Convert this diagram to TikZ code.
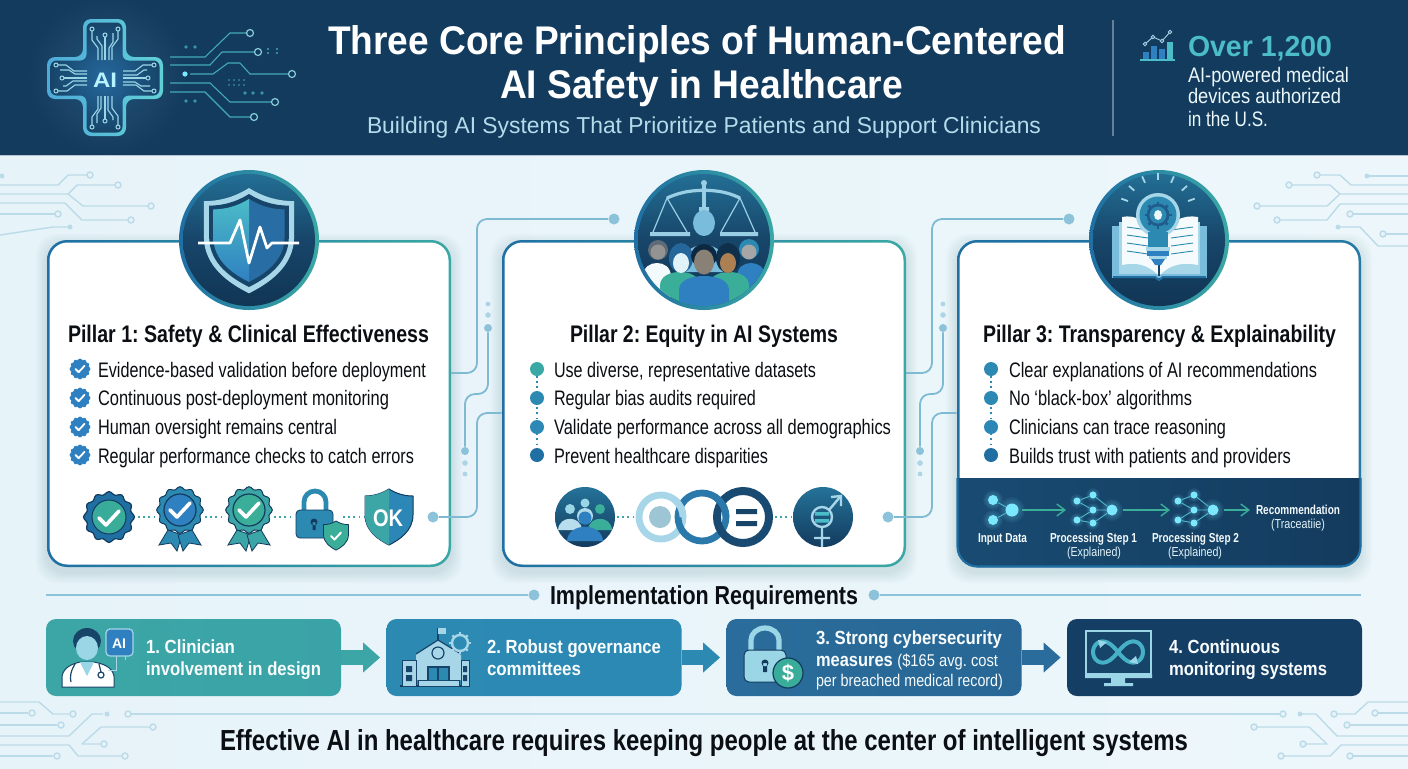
\documentclass[tikz,border=0pt]{standalone}
\usepackage{fontspec}
\usepackage{graphicx}
\setmainfont{Liberation Sans}
\AtBeginDocument{\frenchspacing}
\usetikzlibrary{arrows.meta}
\definecolor{navy}{HTML}{133B5E}
\definecolor{navyb}{HTML}{174569}
\definecolor{bgl}{HTML}{E6F3F9}
\definecolor{bgr}{HTML}{EDF7FB}
\definecolor{trace}{HTML}{BBDBE8}
\definecolor{conn}{HTML}{7FBAD3}
\definecolor{cdotc}{HTML}{8CC3DA}
\definecolor{bord}{HTML}{1F6FA3}
\definecolor{bordt}{HTML}{3AA8A4}
\definecolor{teal}{HTML}{3CA6A6}
\definecolor{mid}{HTML}{2C8AB2}
\definecolor{deep}{HTML}{2A6C9B}
\definecolor{dark}{HTML}{153E65}
\definecolor{ink}{HTML}{0B0F13}
\definecolor{green}{HTML}{3AAE98}
\definecolor{blu}{HTML}{2F80C0}
\definecolor{sky}{HTML}{A6D6E8}
\definecolor{cyn}{HTML}{7CE8FF}
\definecolor{ltc}{HTML}{9AD6E6}
\definecolor{overc}{HTML}{4BBCC8}
\newcommand\fz[1]{\fontsize{#1}{#1}\selectfont}
\newcommand\tw[2]{\resizebox{\dimexpr #1pt/2\relax}{\height}{#2}}
\newcommand\txt[6]{\node[txt,#5] (#1) at (#2,#3) {\tw{#4}{#6}};}
\newcommand\glow[5]{\foreach \gi in {1,...,10}{\fill[#4,opacity=#5] (#1,#2) circle ({#3*\gi/10});}}
\newcommand\softglow[5]{\foreach \gi in {1,...,24}{\fill[#4,opacity=#5] (#1,#2) circle ({#3*\gi/24});}}
\newcommand\ring[3]{\draw[trace,line width=.7pt,fill=bgl] (#1,#2) circle (#3);}
\newcommand\bdy[4]{\fill[#4] (#1-#3,320) -- (#1-#3,#2+14) .. controls (#1-#3,#2+4) and (#1-#3*.5,#2) .. (#1,#2) .. controls (#1+#3*.5,#2) and (#1+#3,#2+4) .. (#1+#3,#2+14) -- (#1+#3,320) -- cycle;}
\newcommand\shp{(0,0) .. controls (-8,5) and (-16,7) .. (-24,7) -- (-24,26) .. controls (-24,42) and (-10,51) .. (0,56) .. controls (10,51) and (24,42) .. (24,26) -- (24,7) .. controls (16,7) and (8,5) .. (0,0) -- cycle}
\newcommand\shl{(0,0) .. controls (-8,5) and (-16,7) .. (-24,7) -- (-24,26) .. controls (-24,42) and (-10,51) .. (0,56) -- cycle}
\newcommand\chk[4]{\draw[white,line width=#4,line cap=round,line join=round] (#1-#3,#2) -- (#1-.3*#3,#2+.7*#3) -- (#1+#3,#2-.7*#3);}
\newcommand\scal[6]{\draw[#5,fill=#4,line width=#6] plot[domain=0:355,samples=72] ({#1+(#3+.06*#3*cos(12*\x))*cos(\x)},{#2+(#3+.06*#3*cos(12*\x))*sin(\x)}) -- cycle;}
\newcommand\gear[5]{\draw[#4,line width=#5] (#1,#2) circle (#3);\foreach \ga in {0,45,...,315}{\draw[#4,line width=#5] ([shift={(\ga:#3)}]#1,#2) -- ([shift={(\ga:#3*1.35)}]#1,#2);}}
\newcommand\arm{%
 \draw[ltc,line width=.55pt] (98,60) -- (98,48) -- (92,40) -- (92,31);
 \draw[ltc,line width=.55pt] (102,60) -- (102,46) -- (97,39) -- (97,36);
 \draw[ltc,line width=.55pt] (105,60) -- (105,37);
 \draw[ltc,line width=.55pt] (109,60) -- (109,48) -- (113,42) -- (113,33);
 \draw[ltc,line width=.55pt] (112,60) -- (112,47) -- (118,39) -- (118,31);
 \draw[ltc,line width=.5pt] (92,29) circle (2) (105,35) circle (2) (118,29) circle (2);}
\tikzset{
 txt/.style={anchor=base west,inner sep=0pt,outer sep=0pt},
 hd/.style={font=\bfseries\fz{20},text=white},
 ttl/.style={font=\bfseries\fz{12},text=ink},
 itm/.style={font=\fz{10.5},text=ink},
 flab/.style={font=\bfseries\fz{6.5},text=white!88!ltc},
 fsub/.style={font=\fz{6.5},text=white!70!ltc},
 btx/.style={font=\bfseries\fz{9.5},text=white!93!ltc},
 hair/.style={trace,line width=.7pt,line join=round},
 cbox/.style={rounded corners=10pt,minimum width=202pt,minimum height=163.5pt,inner sep=0pt,left color=bord,right color=bordt},
 ibox/.style={rounded corners=5pt,minimum width=147.5pt,minimum height=38.5pt,inner sep=0pt},
 cdot/.style={circle,fill=cdotc,inner sep=0pt},
 conline/.style={conn,line width=.9pt,rounded corners=5pt},
 dots/.style={line width=.8pt,dash pattern=on .9pt off 1.7pt,color=#1},
 dots/.default={teal},
 barw/.style={line width=7.5pt,-{Triangle[length=8.5pt,width=14.5pt]},shorten >=3pt},
 iconc/.style={circle,minimum size=70pt,inner sep=0pt,left color=bord,right color=bordt},
 bull/.style={circle,minimum size=7pt,inner sep=0pt},
 fnode/.style={circle,fill=cyn,inner sep=0pt},
}
\begin{document}
\begin{tikzpicture}[x=.5pt,y=-.5pt]
\useasboundingbox (0,0) rectangle (1408,768);
% backgrounds
\shade[left color=bgl,right color=bgr] (0,155) rectangle (1408,768);
\shade[left color=navy,middle color=navyb,right color=navy] (0,0) rectangle (1408,155);
\fill[white!70!navy] (0,154.5) rectangle (1408,156);
% ---- header icon
\softglow{108}{76}{78}{ltc!60!blu}{.013}
\shade[left color=blu!60!cyn,right color=cyn!60!green,rounded corners=4pt]
 (83,19) -- (126,19) -- (126,57) -- (163,57) -- (163,99) -- (126,99) -- (126,136) -- (83,136) -- (83,99) -- (47,99) -- (47,57) -- (83,57) -- cycle;
\shade[inner color=blu!65!navy,outer color=navyb,rounded corners=3pt]
 (86.5,22.5) -- (122.5,22.5) -- (122.5,60.5) -- (159.5,60.5) -- (159.5,95.5) -- (122.5,95.5) -- (122.5,132.5) -- (86.5,132.5) -- (86.5,95.5) -- (50.5,95.5) -- (50.5,60.5) -- (86.5,60.5) -- cycle;
\foreach \ra in {0,90,180,270}{\begin{scope}[rotate around={\ra:(105,78)}]\arm\end{scope}}
\txt{hAI}{93}{87}{24}{font=\bfseries\fz{10.5},text=cyn!55!white}{AI}
\foreach \a/\b/\c/\d/\e/\f/\g/\h in {170/57/205/57/230/33/247/33,170/65/210/65/222/52/254/52,190/74/213/74/228/63/240/63,170/83/210/83/230/102/271/102,170/92/205/92/230/117/251/117}{
 \draw[overc!85!navy,line width=.55pt] (\a,\b) -- (\c,\d) -- (\e,\f) -- (\g,\h);}
\draw[overc!85!navy,line width=.55pt] (240,63) -- (250,74) -- (288,74);
\foreach \a/\b in {250/33,258/52,292/74,275/102,254/117}{\draw[ltc!80!teal,line width=.6pt] (\a,\b) circle (3.5);}
\fill[cyn] (185,74) circle (2.6);
\foreach \a/\b in {186/47,195/47,186/101,195/101,245/93,253/93,262/93}{\fill[overc!70!navy] (\a,\b) circle (1.8);}
\foreach \a in {268,277}{\draw[overc!60!navy,line width=.6pt,dash pattern=on 1pt off 1.2pt] (\a,48) -- (\a,56);}
\draw[overc!40!navy,line width=.8pt,dash pattern=on 1pt off 1.5pt] (228,80) -- (245,80) (228,85) -- (245,85);
% ---- header text
\txt{title1}{328}{54}{738}{hd}{Three Core Principles of Human-Centered}
\txt{title2}{500}{98}{403}{hd}{AI Safety in Healthcare}
\txt{subt}{367}{133}{674}{font=\fz{11.5},text=sky!85!white}{Building AI Systems That Prioritize Patients and Support Clinicians}
\draw[white!35!navy,line width=.6pt] (1113,20) -- (1113,136);
\foreach \a/\b/\c in {1143/52/blu,1151/46/blu,1159/49/blu,1167/42/overc}{\fill[\c] (\a,\b) rectangle (\a+5.5,59);}
\draw[overc,line width=.6pt] (1140,60) -- (1175,60);
\draw[sky,line width=.45pt] (1145,44) -- (1153,37) -- (1162,41) -- (1170,32);
\foreach \a/\b in {1145/44,1153/37,1162/41,1170/32}{\draw[sky,line width=.45pt,fill=navy] (\a,\b) circle (1.8);}
\txt{over}{1188}{56}{144}{font=\bfseries\fz{14.5},text=overc}{Over 1,200}
\txt{s1}{1188}{82}{161}{font=\fz{10.5},text=white!80!ltc}{AI-powered medical}
\txt{s2}{1188}{103}{153}{font=\fz{10.5},text=white!80!ltc}{devices authorized}
\txt{s3}{1188}{126}{80}{font=\fz{10.5},text=white!80!ltc}{in the U.S.}
% ---- decorative traces
\draw[hair] (0,185) -- (58,185) -- (68,175) -- (87,175);
\draw[hair] (0,194) -- (68,194) -- (77,185) -- (115,185);
\draw[hair] (68,194) -- (83,206) -- (148,206);
\draw[hair] (0,203) -- (65,203) -- (82,220) -- (128,220);
\draw[hair] (0,214) -- (55,214);
\draw[hair] (0,235) -- (53,227) -- (68,227);
\foreach \a/\b in {90/175,118/185,151/206,131/220,58/214}{\ring{\a}{\b}{3}}
\fill[trace] (70,227) circle (2.5) (2,176) circle (2.5);
\draw[hair] (1320,175) -- (1340,175) -- (1351,185) -- (1408,185);
\draw[hair] (1367,176) -- (1408,176);
\draw[hair] (1292,185) -- (1330,185) -- (1340,194) -- (1408,194);
\draw[hair] (1260,206) -- (1327,206) -- (1340,194);
\draw[hair] (1280,220) -- (1327,220) -- (1340,204) -- (1408,204);
\draw[hair] (1353,214) -- (1408,214);
\draw[hair] (1338,227) -- (1360,227) -- (1378,246) -- (1408,246);
\draw[hair] (1386,234) -- (1408,234);
\foreach \a/\b in {1317/175,1289/185,1257/206,1277/220,1350/214,1383/234}{\ring{\a}{\b}{3}}
\fill[trace] (1338,227) circle (2.5) (1367,176) circle (2.5);
\draw[hair] (0,702) -- (39,702) -- (53,714) -- (69,714);
\draw[hair] (0,713) -- (28,713);
\draw[hair] (0,725) -- (57,725);
\draw[hair] (0,736) -- (69,736) -- (92,714) -- (103,714);
\draw[hair] (150,727) -- (101,727) -- (82,744) -- (101,744);
\draw[hair] (0,745) -- (69,745) -- (78,756) -- (122,756);
\draw[hair] (0,756) -- (53,756);
\foreach \a/\b in {73/714,32/713,61/725,153/727,104/744,125/756,57/756,128/714}{\ring{\a}{\b}{3}}
\fill[trace] (107,714) circle (2.5);
\draw[hair] (1300,714) -- (1316,714) -- (1337,736) -- (1408,736);
\draw[hair] (1337,714) -- (1355,714) -- (1368,702) -- (1408,702);
\draw[hair] (1378,713) -- (1408,713);
\draw[hair] (1350,725) -- (1408,725);
\draw[hair] (1257,727) -- (1309,727) -- (1327,744) -- (1306,744);
\draw[hair] (1284,756) -- (1330,756) -- (1341,745) -- (1408,745);
\draw[hair] (1353,756) -- (1408,756);
\foreach \a/\b in {1334/714,1375/713,1347/725,1254/727,1303/744,1281/756,1350/756,1283/714}{\ring{\a}{\b}{3}}
\fill[trace] (1300,714) circle (2.5);
\draw[trace,line width=.9pt] (131,714) -- (1280,714);
% ---- card shadows
\foreach \cx in {249,704,1159}{\foreach \sh in {1,...,7}{
 \fill[navy,opacity=.014,rounded corners=11pt] (\cx-202-\sh*1.6,240+5-\sh*1.6) rectangle (\cx+202+\sh*1.6,567+5+\sh*1.6);}}
% ---- cards
\node[cbox] (card1) at (249,403.5) {};
\node[cbox] (card2) at (704,403.5) {};
\node[cbox,right color=bord!80!bordt] (card3) at (1159,403.5) {};
\foreach \cx in {249,704,1159}{\fill[white,rounded corners=9pt] (\cx-199.5,242.5) rectangle (\cx+199.5,564.5);}
\begin{scope}
\clip[rounded corners=10pt] (957,240) rectangle (1361,567);
\shade[left color=navyb!90!blu,right color=navy] (957,478) rectangle (1361,567);
\end{scope}
\draw[bord,line width=1.1pt,rounded corners=10pt] (957.5,478) -- (957.5,566.5) -- (1360.5,566.5) -- (1360.5,478);
% ---- connectors
\foreach \o/\c/\dx [count=\n] in {0/card1/card2,455/card2/card3}{
 \coordinate (out\n) at (451+\o,373);
 \coordinate (in\n) at (\dx.west |- 0,413);
 \node[cdot,minimum size=5.5pt] (top\n) at (614+\o,219) {};
 \node[cdot,minimum size=4pt] (lan\n) at (488+\o,328) {};
 \node[cdot,minimum size=4pt] (lbn\n) at (465+\o,451) {};
 \node[cdot,minimum size=5.5pt] (sd\n) at (433+\o,517) {};
 \draw[conline] (out\n) -- (477+\o,373) -- (477+\o,219) -- (top\n);
 \draw[conline] (lan\n) -- (488+\o,394) -- (465+\o,394) -- (lbn\n);
 \draw[conline] (sd\n) -- (477+\o,517) -- (477+\o,413) -- (in\n);
 \fill[cdotc!70!white] (488+\o,304) circle (2.4) (488+\o,315) circle (2.8) (465+\o,463) circle (2.8) (465+\o,474) circle (2.4);
}
% ---- icon circles
\foreach \cx/\nm in {249/ic1,704/ic2,1159/ic3}{
 \node[iconc] (\nm) at (\cx,240) {};
 \shade[top color=mid!65!navy,bottom color=navy!90!black,middle color=navyb] (\cx,240) circle (66);}
% shield
\begin{scope}[shift={(249,188)},scale=1.88]\fill[sky] \shp;\end{scope}
\begin{scope}[shift={(249,194)},scale=1.66]\fill[navyb] \shp;\end{scope}
\begin{scope}[shift={(249,199)},scale=1.48]\fill[blu!85!black] \shp;\shade[top color=overc,bottom color=blu] \shl;\end{scope}
\draw[white,line width=1.4pt,line join=round] (198,243) -- (230,243) -- (240,220) -- (249,263) -- (260,227) -- (267,248) -- (272,243) -- (299,243);
% scales + people
\begin{scope}
\clip (704,240) circle (66);
\draw[sky!90!blu,line width=1.6pt] (667,198) .. controls (685,190) and (695,191) .. (704,190) .. controls (713,191) and (723,190) .. (740,198);
\fill[sky!90!blu] (704,183) circle (3) (699,207) rectangle (709,212);
\draw[sky!90!blu,line width=2pt] (704,185) -- (704,210);
\draw[sky!90!blu,line width=.6pt] (653,232) -- (667,198) -- (687,232) (721,232) -- (740,198) -- (755,232);
\fill[sky!90!blu] (650,232) rectangle (690,236) (720,232) rectangle (758,236);
\fill[ltc!70!blu] (704,223) ellipse (11 and 13);
\fill[ltc!70!blu] (678,272) .. controls (680,236) and (728,236) .. (730,272) -- cycle;
% far left
\bdy{657}{263}{14}{white!88!ltc}
\fill[gray!70!navy] (658,250) circle (10);
\fill[gray!85!white] (658,252) circle (7.5);
% far right
\bdy{751}{263}{14}{blu}
\fill[mid] (749,249) circle (10);
\fill[gray!70!white] (749,252) circle (7.5);
% left
\bdy{680}{272}{20}{green}
\fill[blu!80!black] (681,258) ellipse (12 and 15);
\fill[white!70!ltc] (681,263) ellipse (8 and 10);
% right
\bdy{729}{272}{20}{green}
\fill[navy!80!black] (728,258) ellipse (12 and 15);
\fill[brown!70!gray] (728,263) ellipse (8 and 10);
% centre
\bdy{704}{276}{25}{blu}
\fill[navy!70!black] (704,256) ellipse (13 and 12);
\fill[gray!85!brown] (704,262) ellipse (10 and 12.5);
\end{scope}
% book & bulb
\fill[ltc!70!blu] (1112,226) rectangle (1207,278);
\fill[sky] (1119,222) rectangle (1200,274);
\fill[white!90!ltc] (1159,276) .. controls (1148,264) and (1135,262) .. (1122,265) -- (1122,217) .. controls (1135,214) and (1150,222) .. (1159,238) -- cycle;
\fill[white!90!ltc] (1159,276) .. controls (1170,264) and (1183,262) .. (1198,265) -- (1198,217) .. controls (1183,214) and (1168,222) .. (1159,238) -- cycle;
\foreach \yy in {227,235,243,251}{\draw[mid,line width=.45pt] (1127,\yy) -- (1148,\yy+3) (1171,\yy+3) -- (1193,\yy);}
\draw[navyb,line width=.7pt] (1159,238) -- (1159,276);
\draw[bord,line width=1pt] (1113,277) -- (1155,277) -- (1159,280) -- (1163,277) -- (1206,277);
\fill[sky] (1158,215) circle (22);
\fill[mid] (1158,215) circle (18.5);
\fill[mid] (1148,232) rectangle (1168,248);
\gear{1158}{215}{10}{navyb!60!blu}{1.4pt}
\fill[white!80!ltc] (1158,215) ellipse (4 and 5);
\fill[sky] (1146,247) rectangle (1170,251);
\fill[blu] (1147,251) rectangle (1169,256);
\fill[sky] (1149,256) rectangle (1167,259);
\fill[blu] (1151,259) -- (1165,259) -- (1161,265) -- (1155,265) -- cycle;
\foreach \ra in {270,246,294,222,318,200,340}{\draw[sky,line width=.9pt] ([shift={(\ra:32)}]1158,212) -- ([shift={(\ra:39)}]1158,212);}
% ---- pillar text
\txt{p1}{68}{342}{361}{ttl}{Pillar 1: Safety \& Clinical Effectiveness}
\txt{a1}{98}{377}{328}{itm}{Evidence-based validation before deployment}
\txt{a2}{98}{405}{291}{itm}{Continuous post-deployment monitoring}
\txt{a3}{98}{434}{239}{itm}{Human oversight remains central}
\txt{a4}{98}{463}{316}{itm}{Regular performance checks to catch errors}
\foreach \yy in {369,398,427,455}{\scal{80}{\yy}{9.5}{blu}{blu}{.3pt}\chk{80}{\yy}{4.5}{.9pt}}
\txt{p2}{570}{342}{268}{ttl}{Pillar 2: Equity in AI Systems}
\txt{b1}{554}{377}{262}{itm}{Use diverse, representative datasets}
\txt{b2}{554}{405}{202}{itm}{Regular bias audits required}
\txt{b3}{554}{434}{337}{itm}{Validate performance across all demographics}
\txt{b4}{554}{463}{214}{itm}{Prevent healthcare disparities}
\draw[dots=mid] (537,376) -- (537,449);
\node[bull,fill=bordt] (bu1) at (537,369) {};
\node[bull,fill=mid] (bu2) at (537,398) {};
\node[bull,fill=mid!80!blu] (bu3) at (537,427) {};
\node[bull,fill=bord] (bu4) at (537,455) {};
\txt{p3}{983}{342}{353}{ttl}{Pillar 3: Transparency \& Explainability}
\txt{c1}{1009}{377}{308}{itm}{Clear explanations of AI recommendations}
\txt{c2}{1009}{405}{183}{itm}{No ‘black-box’ algorithms}
\txt{c3}{1009}{434}{217}{itm}{Clinicians can trace reasoning}
\txt{c4}{1009}{463}{282}{itm}{Builds trust with patients and providers}
\draw[dots=mid] (991,376) -- (991,449);
\node[bull,fill=mid] (cu1) at (991,369) {};
\node[bull,fill=mid!95!blu] (cu2) at (991,398) {};
\node[bull,fill=mid!70!blu] (cu3) at (991,427) {};
\node[bull,fill=bord] (cu4) at (991,455) {};
% ---- card 1 small icons
\draw[dots] (138,517) -- (156,517) (205,517) -- (224,517) (274,517) -- (293,517) (343,517) -- (364,517);
\scal{109}{517}{24}{bord}{navy}{.6pt}
\shade[left color=green!90!blu,right color=green] (109,517) circle (17);
\draw[navy,line width=.5pt] (109,517) circle (17);
\chk{109}{518}{10}{1.8pt}
\foreach \cx/\ca/\cb/\cc in {180/mid/blu/mid,249/teal/green/teal}{
 \fill[\cc,draw=navy,line width=.4pt] (\cx-12,530) -- (\cx-21,545) -- (\cx-9,543) -- (\cx-3,551) -- (\cx+2,535) -- cycle;
 \fill[\cc,draw=navy,line width=.4pt] (\cx+12,530) -- (\cx+21,545) -- (\cx+9,543) -- (\cx+3,551) -- (\cx-2,535) -- cycle;
 \scal{\cx}{510}{22}{\ca}{navy}{.5pt}
 \fill[\cb,draw=navy,line width=.6pt] (\cx,510) circle (16);
 \chk{\cx}{510}{10}{1.8pt}}
\draw[mid,line width=2.4pt] (304,512) -- (304,502) arc[start angle=180,end angle=360,x radius=11,y radius=11] -- (326,512);
\draw[navy,line width=.4pt,fill=mid,rounded corners=2pt] (296,510) rectangle (333,538);
\fill[navy] (314,522) circle (3.5) (312.5,522) rectangle (315.5,530);
\begin{scope}[shift={(336,521)},scale=.52]\fill[green,draw=navy,line width=.4pt] \shp;\end{scope}
\chk{336}{536}{5}{1pt}
\begin{scope}[shift={(389,489)},scale=1]\fill[mid!70!blu,draw=navy,line width=.5pt] \shp;\fill[teal] \shl;\end{scope}
\txt{okt}{373}{526}{30}{font=\bfseries\fz{12},text=white}{OK}
% ---- card 2 small icons
\draw[dots] (617,517) -- (634,517) (775,517) -- (793,517);
\node[circle,minimum size=30pt,inner sep=0pt,top color=mid!70!navy,bottom color=navy] (peop) at (585,517) {};
\fill[ltc] (585,503) circle (4.5) (570,509) circle (5);
\fill[green] (600,509) circle (5);
\fill[sky!80!white] (558,530) .. controls (559,515) and (581,515) .. (582,530) -- cycle;
\fill[green] (588,530) .. controls (589,515) and (611,515) .. (612,530) -- cycle;
\fill[sky!90!white] (585,516) circle (8);
\fill[blu] (585,518) circle (6.5);
\fill[blu] (567,541) .. controls (568,522) and (602,522) .. (603,541) -- cycle;
\draw[sky,line width=3.4pt] (661,517) circle (22);
\draw[bord!90!ltc,line width=3.4pt] (702,517) circle (24);
\draw[sky,line width=3.4pt] (661,517) ++(22,0) arc[start angle=0,end angle=-50,radius=22];
\draw[navyb!90!blu,line width=4pt] (743,517) circle (26);
\draw[bord!90!ltc,line width=3.4pt] (702,517) ++(24,0) arc[start angle=0,end angle=-50,radius=24];
\fill[sky!80!gray] (660,517) circle (11);
\fill[navyb] (736,509) rectangle (757,514) (736,521) rectangle (757,526);
\node[circle,minimum size=30pt,inner sep=0pt,top color=mid!70!navy,bottom color=navy] (gend) at (823,517) {};
\draw[sky,line width=1.2pt] (822,517) circle (10) (822,527) -- (822,547) (814,538) -- (830,538) (829,510) -- (840,497);
\draw[sky,line width=1.2pt] (831,497) -- (841,496) -- (841,506);
\fill[overc] (815,512) rectangle (829,515.5) (815,519) rectangle (829,522.5);
% ---- flow
\foreach \nm/\a/\b/\r in {fa/993/500/5,fb/993/520/5,fc/1012/510/6.5}{\glow{\a}{\b}{\r*2}{cyn}{.05}\node[fnode,minimum size=\r pt] (\nm) at (\a,\b) {};}
\foreach \o/\p in {0/g,101/h}{
 \foreach \nm/\a/\b/\r in {a/1077/501/3.5,b/1093/495/3.5,c/1093/510/3.5,d/1077/520/3.5,e/1093/523/3.5,f/1112/510/5.5}{
  \glow{\a+\o}{\b}{\r*2}{cyn}{.05}\node[fnode,minimum size=\r pt] (\p\nm) at (\a+\o,\b) {};}
 \draw[overc,line width=.45pt] (\p a) -- (\p b) -- (\p f) (\p a) -- (\p c) -- (\p f) (\p d) -- (\p c) (\p d) -- (\p e) -- (\p f);}
\draw[overc,line width=.45pt] (fa) -- (fc) (fb) -- (fc);
\coordinate (rec) at (1250,510);
\draw[green,line width=.7pt,-{Straight Barb[length=4pt,width=6pt]}] (fc) ++(10,0) -- ++(44,0);
\draw[green,line width=.7pt,-{Straight Barb[length=4pt,width=6pt]}] (gf) ++(11,0) -- ++(47,0);
\draw[green,line width=.7pt,-{Straight Barb[length=4pt,width=6pt]}] (hf) ++(11,0) -- (rec);
\txt{fl1}{978}{542}{49}{flab}{Input Data}
\txt{fl2}{1050}{542}{87}{flab}{Processing Step 1}
\txt{fl3}{1067}{556}{54}{fsub}{(Explained)}
\txt{fl4}{1152}{542}{87}{flab}{Processing Step 2}
\txt{fl5}{1168}{556}{54}{fsub}{(Explained)}
\txt{fl6}{1256}{514}{84}{flab}{Recommendation}
\txt{fl7}{1271}{528}{54}{fsub}{(Traceatiie)}
% ---- implementation
\node[circle,fill=cdotc,minimum size=5.5pt,inner sep=0pt] (il) at (534,595) {};
\node[circle,fill=cdotc,minimum size=5.5pt,inner sep=0pt] (ir) at (874,595) {};
\coordinate (ile) at (46,595);
\coordinate (ire) at (1361,595);
\draw[cdotc,line width=.8pt] (ile) -- (il);
\draw[cdotc,line width=.8pt] (ir) -- (ire);
\txt{impl}{550}{604}{308}{font=\bfseries\fz{13},text=ink}{Implementation Requirements}
\node[ibox,left color=teal,right color=teal!90!mid] (box1) at (193.5,657.5) {};
\node[ibox,left color=mid,right color=mid!85!blu] (box2) at (534,657.5) {};
\node[ibox,left color=deep,right color=deep!90!navy] (box3) at (874,657.5) {};
\node[ibox,left color=dark,right color=dark] (box4) at (1214.5,657.5) {};
\draw[barw,teal] (box1.east) -- (box2.west);
\draw[barw,mid] (box2.east) -- (box3.west);
\draw[barw,deep] (box3.east) -- (box4.west);
\txt{q1}{146}{653}{89}{btx}{1. Clinician}
\txt{q2}{146}{675}{175}{btx}{involvement in design}
\txt{q3}{487}{653}{174}{btx}{2. Robust governance}
\txt{q4}{487}{675}{94}{btx}{committees}
\txt{q5}{816}{644}{186}{btx}{3. Strong cybersecurity}
\txt{q6}{816}{666}{182}{btx}{measures {\mdseries\fz{8.5}(\$165 avg. cost}}
\txt{q7}{816}{686}{187}{font=\fz{8.5},text=white!90!ltc}{per breached medical record)}
\txt{q8}{1169}{653}{111}{btx}{4. Continuous}
\txt{q9}{1169}{675}{158}{btx}{monitoring systems}
% doctor
\fill[white] (62,687) -- (62,676) .. controls (64,667) and (72,664) .. (80,662) -- (94,662) .. controls (104,664) and (112,667) .. (114,676) -- (114,687) -- cycle;
\draw[navyb,line width=.5pt] (62,687) -- (62,676) .. controls (64,667) and (72,664) .. (80,662) -- (94,662) .. controls (104,664) and (112,667) .. (114,676) -- (114,687) -- cycle;
\fill[ltc] (80,662) -- (94,662) -- (87,676) -- cycle;
\fill[navyb] (87,641) ellipse (14 and 13);
\fill[ltc] (87,648) ellipse (11 and 12);
\draw[navyb,line width=.6pt] (75,664) .. controls (70,672) and (70,678) .. (71,682) (99,664) -- (101,672);
\draw[navyb,line width=.6pt] (101,675) circle (3);
\draw[sky,line width=.5pt] (106,648) -- (125,648) -- (125,660) (116,656) -- (116,670) -- (108,670);
\draw[sky,line width=.6pt,fill=blu,rounded corners=2pt] (106,629) rectangle (133,656);
\txt{dAI}{112}{648}{14}{font=\bfseries\fz{7},text=white}{AI}
% building
\draw[navy,line width=.7pt] (400,686) -- (470,686);
\fill[sky] (416,654) -- (438,640) -- (461,654) -- (461,680) -- (416,680) -- cycle;
\draw[navyb,line width=.6pt] (416,654) -- (438,640) -- (461,654);
\fill[sky] (402,660) rectangle (416,686) (461,660) rectangle (469,686) (418,680) rectangle (459,686);
\draw[navyb,line width=.5pt] (402,660) rectangle (416,686) (461,660) rectangle (469,686) (418,680) rectangle (459,686);
\fill[navyb] (406,666) rectangle (412,672) (406,675) rectangle (412,681) (463,666) rectangle (467,672) (463,675) rectangle (467,681);
\draw[navyb,line width=.7pt,fill=mid] (428,680) -- (428,667) -- (449,667) -- (449,680) (438,667) -- (438,680);
\draw[navyb,line width=.6pt] (438,653) circle (6);
\draw[navyb,line width=.6pt] (438,640) -- (438,628);
\fill[sky] (438,628) rectangle (446,634);
\gear{460}{643}{8}{sky}{1.2pt}
% lock + coin
\draw[ltc,line width=2.6pt] (751,652) -- (751,640) arc[start angle=180,end angle=360,x radius=14,y radius=12] -- (779,652);
\draw[navy,line width=.5pt,fill=ltc,rounded corners=2.5pt] (744,650) rectangle (786,682);
\fill[navy] (765,663) circle (3.5) (763,663) rectangle (767,672);
\fill[green!85!teal,draw=navy,line width=.6pt] (788,673) circle (15);
\node[inner sep=0pt,font=\bfseries\fz{11},text=white] (coin) at (788,673) {\$};
% monitor
\draw[ltc,line width=1.1pt,fill=navyb] (1086,631) rectangle (1151,674);
\fill[ltc] (1085,674) rectangle (1152,678) (1111,678) rectangle (1125,683) (1104,683) rectangle (1133,686);
\draw[overc!80!blu,line width=2pt] plot[domain=0:360,samples=60] ({1118+25*cos(\x)/(1+sin(\x)^2)},{652+30*sin(\x)*cos(\x)/(1+sin(\x)^2)});
\fill[ltc] (1098,640) -- (1107,642) -- (1100,648) -- cycle (1138,664) -- (1129,662) -- (1136,656) -- cycle;
% footer
\txt{foot}{220}{750}{968}{font=\bfseries\fz{14.5},text=ink}{Effective AI in healthcare requires keeping people at the center of intelligent systems}
\end{tikzpicture}
\end{document}
